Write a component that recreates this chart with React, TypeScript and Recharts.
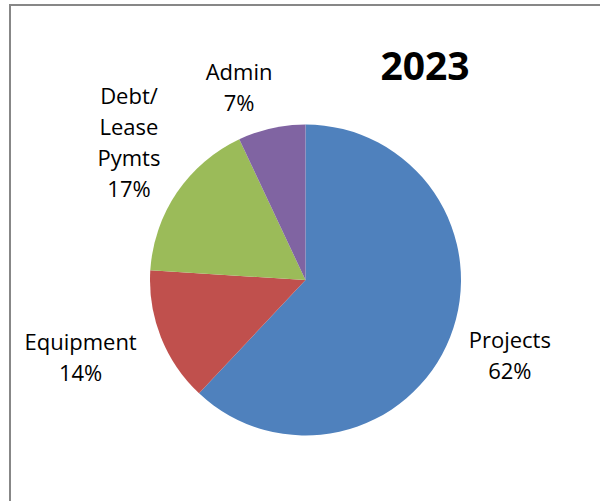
import { PieChart, Pie, Cell } from "recharts";

const categories = ["Projects", "Equipment", "Debt/ Lease Pymts", "Admin"];
const shares = [62, 14, 17, 7];
const sliceColors = ["#4F81BD", "#C0504D", "#9BBB59", "#8064A2"];
const title = "2023";

const data = categories.map((name, i) => ({ name, value: shares[i] }));

// best-fit label placement: distance past the rim and a small angular nudge
const labelLayout: Record<string, { gap: number; turn: number }> = {
  Projects: { gap: 62.5, turn: 1.2 },
  Equipment: { gap: 82.5, turn: -2.5 },
  "Debt/ Lease Pymts": { gap: 68.5, turn: -3.8 },
  Admin: { gap: 48.5, turn: 6.4 },
};

const FONT = "'Open Sans', sans-serif";
const LINE_H = 31;
const CAP_H = 16;

const RADIAN = Math.PI / 180;

function renderLabel(props: any) {
  const { cx, cy, midAngle, outerRadius, name, percent } = props;
  const layout = labelLayout[name] ?? { gap: 50, turn: 0 };
  const r = outerRadius + layout.gap;
  const a = (midAngle + layout.turn) * RADIAN;
  const x = cx + r * Math.cos(a);
  const y = cy - r * Math.sin(a);
  const lines = [...String(name).split(" "), `${Math.round(percent * 100)}%`];
  const firstBaseline = y - ((lines.length - 1) * LINE_H) / 2 + CAP_H / 2;
  return (
    <text
      x={x}
      y={firstBaseline}
      textAnchor="middle"
      fill="#000"
      fontFamily={FONT}
      fontSize={22}
    >
      {lines.map((ln, i) => (
        <tspan key={i} x={x} y={firstBaseline + i * LINE_H}>
          {ln}
        </tspan>
      ))}
    </text>
  );
}

export default function App() {
  return (
    <div
      style={{
        position: "absolute",
        left: 0,
        top: 0,
        width: 600,
        height: 501,
        overflow: "hidden",
        background: "#fff",
      }}
    >
      <div
        style={{
          position: "absolute",
          left: 9,
          top: 4,
          width: 700,
          height: 600,
          borderLeft: "2px solid #878787",
          borderTop: "2px solid #878787",
        }}
      />
      <div style={{ position: "absolute", left: 0, top: 0 }}>
        <PieChart
          width={600}
          height={501}
          margin={{ top: 0, right: 0, bottom: 0, left: 0 }}
        >
          <text
            x={425}
            y={80}
            textAnchor="middle"
            fontFamily={FONT}
            fontWeight="bold"
            fontSize={39}
            fill="#000"
          >
            {title}
          </text>
          <Pie
            data={data}
            dataKey="value"
            nameKey="name"
            cx={305.5}
            cy={280}
            outerRadius={155.5}
            startAngle={90}
            endAngle={-270}
            stroke="none"
            label={renderLabel}
            labelLine={false}
            isAnimationActive={false}
          >
            {data.map((d, i) => (
              <Cell key={d.name} fill={sliceColors[i]} />
            ))}
          </Pie>
        </PieChart>
      </div>
    </div>
  );
}
